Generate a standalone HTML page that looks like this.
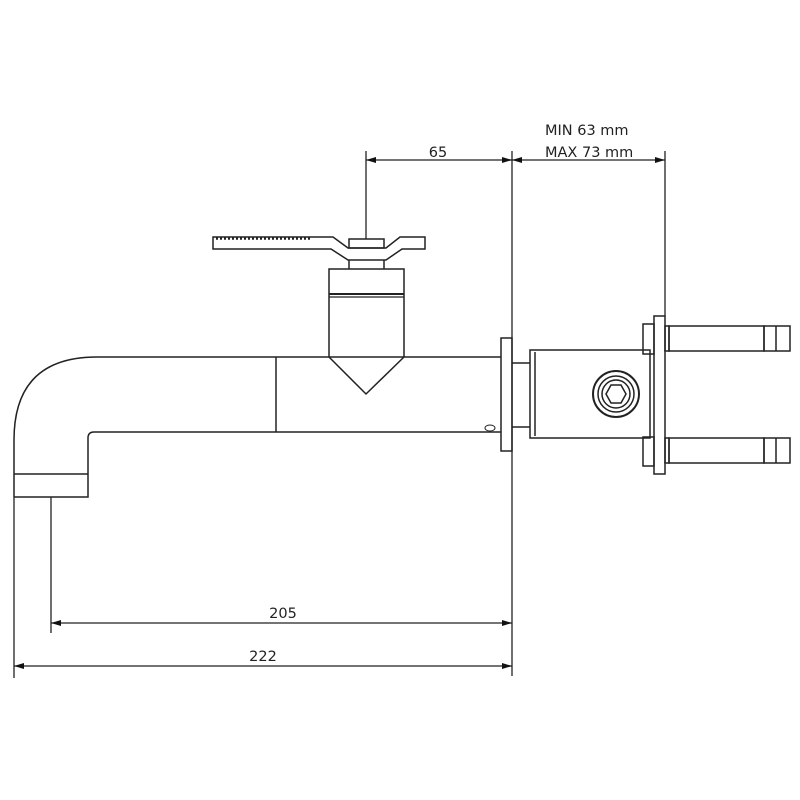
<!DOCTYPE html>
<html><head><meta charset="utf-8"><style>
html,body{margin:0;padding:0;background:#fff;width:800px;height:800px;overflow:hidden}
text{font-family:"DejaVu Sans","Liberation Sans",sans-serif;font-size:14.5px;fill:#222}
</style></head><body>
<svg width="800" height="800" viewBox="0 0 800 800" xmlns="http://www.w3.org/2000/svg">
<defs>
<marker id="a" viewBox="0 0 10 6" refX="10" refY="3" markerWidth="10" markerHeight="6" orient="auto-start-reverse" markerUnits="userSpaceOnUse"><path d="M0,0L10,3L0,6z" fill="#111"/></marker>
</defs>
<g fill="none" stroke="#222" stroke-width="1.5">
<path d="M14,497 L14,440 Q14,357 97,357 L501,357"/>
<path d="M501,432 L94,432 Q88,432 88,438 L88,497 L14,497"/>
<line x1="14" y1="474" x2="88" y2="474"/>
<line x1="276" y1="357" x2="276" y2="432"/>
<ellipse cx="490" cy="428" rx="5" ry="3" stroke-width="1"/>
<path d="M329,357 L329,269 L404,269 L404,357 M329,357 L366,394 L404,357" />
<line x1="329" y1="294" x2="404" y2="294" stroke-width="2"/>
<line x1="329" y1="297" x2="404" y2="297" stroke-width="1.2"/>
<path d="M349,269 L349,260 M384,269 L384,260"/>
<path d="M213,237 L333,237 L348,248 L386,248 L400,237 L425,237 L425,249 L402,249 L386,260 L348,260 L331,249 L213,249 Z"/>
<rect x="349" y="239" width="35" height="9"/>
<line x1="216" y1="238.5" x2="312" y2="238.5" stroke-dasharray="2 2" stroke-width="2.5"/>
<rect x="501" y="338" width="11" height="113"/>
<line x1="512" y1="363" x2="530" y2="363"/>
<line x1="512" y1="427" x2="530" y2="427"/>
<rect x="530" y="350" width="120" height="88"/>
<line x1="535" y1="352" x2="535" y2="436"/>
<circle cx="616" cy="394" r="23" stroke-width="2"/>
<circle cx="616" cy="394" r="18"/>
<circle cx="616" cy="394" r="14"/>
<path d="M606,394 L611,385 L621,385 L626,394 L621,403 L611,403 Z"/>
<rect x="643" y="324" width="11" height="30"/>
<rect x="643" y="437" width="11" height="29"/>
<rect x="654" y="316" width="11" height="158"/>
<rect x="665" y="326" width="4" height="25"/>
<rect x="669" y="326" width="95" height="25"/>
<rect x="764" y="326" width="26" height="25"/>
<line x1="776" y1="326" x2="776" y2="351"/>
<rect x="665" y="438" width="4" height="25"/>
<rect x="669" y="438" width="95" height="25"/>
<rect x="764" y="438" width="26" height="25"/>
<line x1="776" y1="438" x2="776" y2="463"/>
</g>
<g fill="none" stroke="#222" stroke-width="1.3">
<line x1="512" y1="151" x2="512" y2="676"/>
<line x1="366" y1="151" x2="366" y2="239"/>
<line x1="665" y1="151" x2="665" y2="316"/>
<line x1="51" y1="497" x2="51" y2="633"/>
<line x1="14" y1="497" x2="14" y2="678"/>
<line x1="366" y1="160" x2="512" y2="160" marker-start="url(#a)" marker-end="url(#a)"/>
<line x1="512" y1="160" x2="665" y2="160" marker-start="url(#a)" marker-end="url(#a)"/>
<line x1="51" y1="623" x2="512" y2="623" marker-start="url(#a)" marker-end="url(#a)"/>
<line x1="14" y1="666" x2="512" y2="666" marker-start="url(#a)" marker-end="url(#a)"/>
</g>
<text x="438" y="157" text-anchor="middle">65</text>
<text x="545" y="135">MIN 63 mm</text>
<text x="545" y="157">MAX 73 mm</text>
<text x="283" y="618" text-anchor="middle">205</text>
<text x="263" y="661" text-anchor="middle">222</text>
</svg>
</body></html>
